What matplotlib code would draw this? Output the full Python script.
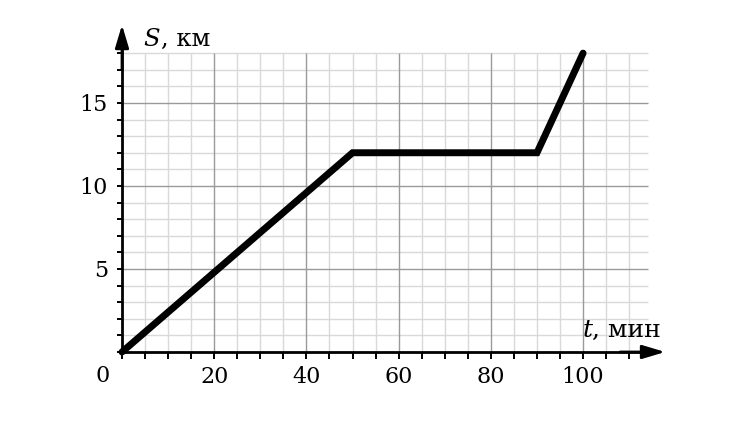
import matplotlib
matplotlib.use("Agg")
import matplotlib.pyplot as plt
import numpy as np

# data
t_min = [0, 50, 90, 100]
s_km = [0, 12, 12, 18]
x_major = [20, 40, 60, 80, 100]
x_minor = list(range(0, 115, 5))
y_major = [5, 10, 15]
y_minor = list(range(0, 19, 1))
grid_x_end = 114
grid_y_end = 18

plt.rcParams['font.family'] = ['DejaVu Serif']

fig = plt.figure(figsize=(7.5, 4.36), dpi=100)
ax = fig.add_axes([0, 0, 1, 1])
ax.set_xlim(-26.46, 136.2)
ax.set_ylim(-5.06, 21.2)

minor_c = '#d9d9d9'
major_c = '#9a9a9a'
# grid
for x in x_minor:
    if x == 0:
        continue
    c = major_c if x % 20 == 0 else minor_c
    ax.vlines(x, 0, grid_y_end, colors=c, lw=1.0, zorder=1 if c == minor_c else 1.5)
for y in y_minor:
    if y == 0:
        continue
    c = major_c if y % 5 == 0 else minor_c
    ax.hlines(y, 0, grid_x_end, colors=c, lw=1.0, zorder=1 if c == minor_c else 1.5)

# spines at zero
for side in ['top', 'right']:
    ax.spines[side].set_visible(False)
ax.spines['left'].set_position(('data', 0))
ax.spines['bottom'].set_position(('data', 0))
ax.spines['left'].set_bounds(0, 19)
ax.spines['bottom'].set_bounds(0, 115)
ax.spines['left'].set_linewidth(2.0)
ax.spines['bottom'].set_linewidth(2.0)

ax.set_xticks(x_major)
ax.set_xticklabels([str(v) for v in x_major])
ax.set_xticks(x_minor, minor=True)
ax.set_yticks(y_major)
ax.set_yticklabels([str(v) for v in y_major])
ax.set_yticks(y_minor, minor=True)
ax.tick_params(axis='x', which='both', direction='out', length=5, width=1.4, pad=5, labelsize=16)
ax.tick_params(axis='y', which='both', direction='out', length=3.6, width=1.4, pad=6.5, labelsize=16)

# arrows
ax.annotate('', xy=(117.8, 0), xytext=(108, 0),
            arrowprops=dict(arrowstyle='-|>,head_length=1.1,head_width=0.33', lw=2.0,
                            color='black', mutation_scale=12.5, shrinkA=0, shrinkB=0))
ax.annotate('', xy=(0, 19.7), xytext=(0, 17),
            arrowprops=dict(arrowstyle='-|>,head_length=1.1,head_width=0.33', lw=2.0,
                            color='black', mutation_scale=12.5, shrinkA=0, shrinkB=0))

# data line
ax.plot(t_min, s_km, color='black', lw=5, solid_capstyle='round', solid_joinstyle='miter', zorder=5)

# labels
ax.text(-4.3, -1.45, '0', fontsize=16, ha='center', va='center')
ax.text(4.7, 18.45, 'S', fontsize=17.5, style='italic', ha='left', va='baseline')
ax.text(8.4, 18.45, ', км', fontsize=17.5, ha='left', va='baseline')
ax.text(100.0, 0.9, 't', fontsize=18, style='italic', ha='left', va='baseline')
ax.text(102.0, 0.9, ', мин', fontsize=18, ha='left', va='baseline')

fig.savefig('out.png', dpi=100)
